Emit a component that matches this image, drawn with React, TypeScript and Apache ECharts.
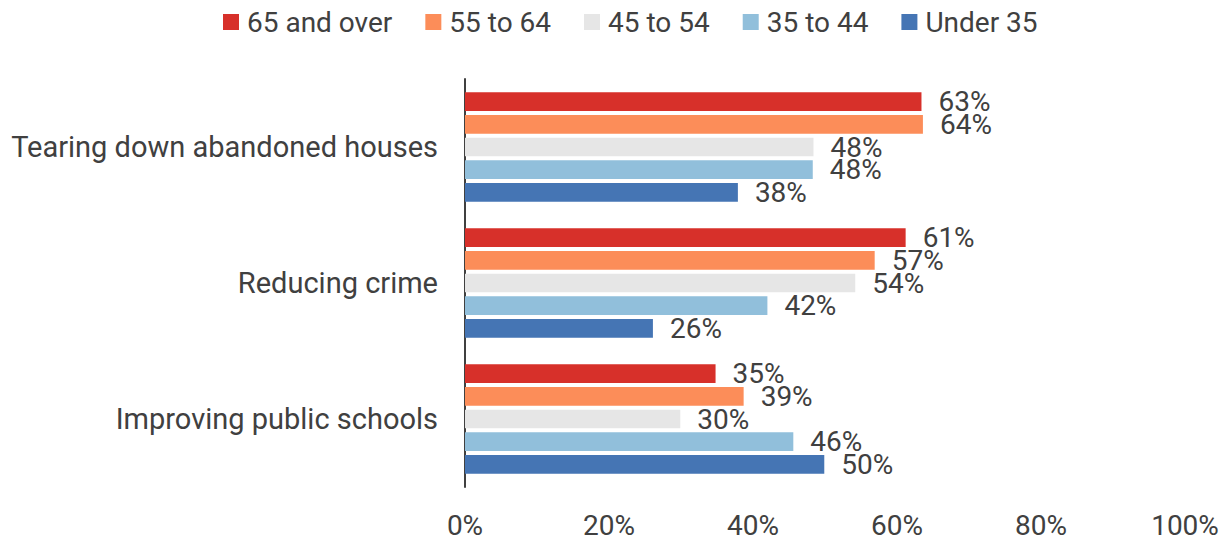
import React, { useEffect, useRef } from "react";
import * as echarts from "echarts";

const categories = ["Tearing down abandoned houses", "Reducing crime", "Improving public schools"];
const seriesNames = ["65 and over", "55 to 64", "45 to 54", "35 to 44", "Under 35"];
const colors = ["#d7302a", "#fc8d59", "#e6e6e6", "#91bfdb", "#4575b4"];
const age65plus = [63.4, 61.2, 34.8];
const age55to64 = [63.6, 56.9, 38.7];
const age45to54 = [48.4, 54.2, 29.9];
const age35to44 = [48.3, 42.0, 45.6];
const under35 = [37.9, 26.1, 49.9];
const xTicks = [0, 20, 40, 60, 80, 100];

const seriesData = [age65plus, age55to64, age45to54, age35to44, under35];
const FONT = "Roboto";
const TEXT = "#404040";

export default function App() {
  const ref = useRef<HTMLDivElement>(null);
  useEffect(() => {
    document.body.style.margin = "0";
    if (!ref.current) return;
    const chart = echarts.init(ref.current, undefined, { renderer: "svg" });
    chart.setOption({
      animation: false,
      textStyle: { fontFamily: FONT },
      legend: {
        left: 218,
        top: 3,
        itemWidth: 16,
        itemHeight: 16,
        itemGap: 33,
        icon: "rect",
        textStyle: { fontSize: 28, color: TEXT, fontFamily: FONT, padding: [0, 0, 0, 3] },
        data: seriesNames,
      },
      grid: { left: 465, top: 79, width: 720, height: 408, containLabel: false },
      xAxis: {
        type: "value",
        min: xTicks[0],
        max: xTicks[xTicks.length - 1],
        interval: 20,
        axisLine: { show: false },
        axisTick: { show: false },
        splitLine: { show: false },
        axisLabel: {
          formatter: (v: number) => v + "%",
          fontSize: 28,
          color: TEXT,
          fontFamily: FONT,
          margin: 24,
        },
      },
      yAxis: {
        type: "category",
        data: categories,
        inverse: true,
        axisLine: { show: true, lineStyle: { color: TEXT, width: 2 } },
        axisTick: { show: false },
        axisLabel: { fontSize: 29, color: TEXT, fontFamily: FONT, margin: 27 },
      },
      series: seriesNames.map((name, i) => ({
        name,
        type: "bar",
        data: seriesData[i],
        barGap: "21%",
        barCategoryGap: "19.5%",
        itemStyle: { color: colors[i] },
        label: {
          show: true,
          position: "right",
          distance: 17,
          fontSize: 28,
          color: TEXT,
          fontFamily: FONT,
          formatter: (p: any) => Math.round(p.value) + "%",
        },
      })),
    });
    return () => chart.dispose();
  }, []);
  return <div ref={ref} style={{ width: 1231, height: 540 }} />;
}
